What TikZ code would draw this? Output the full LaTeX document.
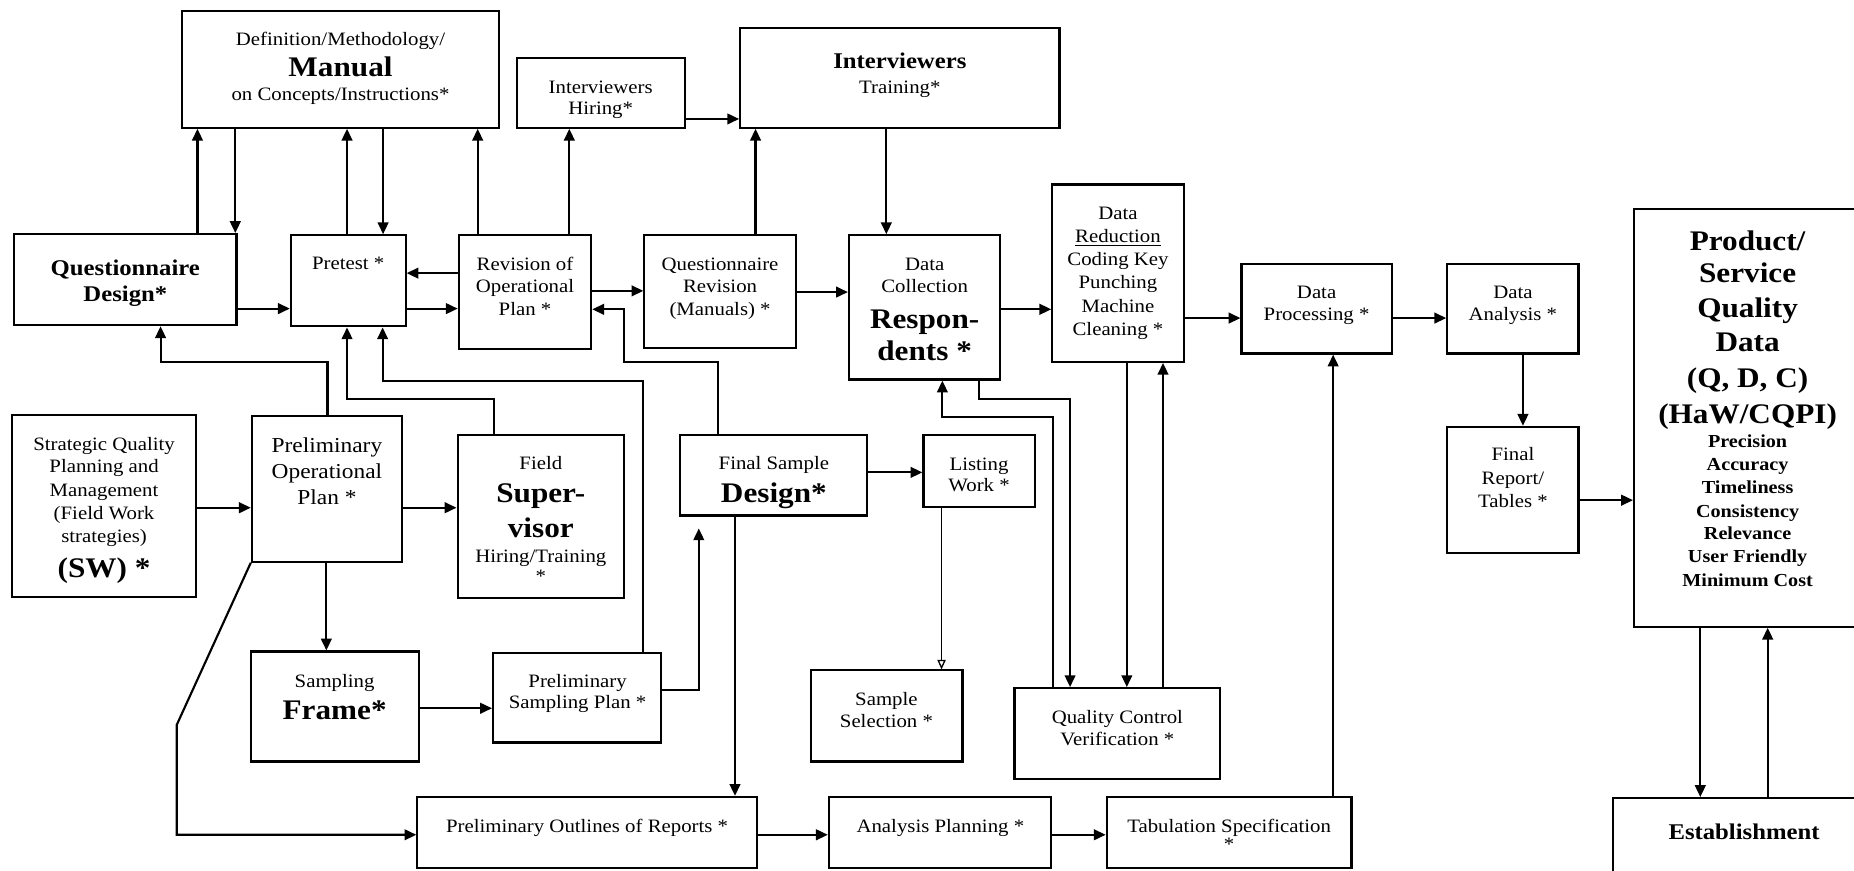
\documentclass[tikz,border=0pt]{standalone}
\usepackage{fontspec}
\setmainfont{Liberation Serif}[FakeStretch=1.1]
\usetikzlibrary{arrows.meta,fit}
\begin{document}
\begin{tikzpicture}[x=1pt,y=-1pt,
  box/.style={draw, line width=1.8pt, inner sep=0pt},
  arr/.style={line width=1.8pt, -{Triangle[length=10pt,width=9pt]}},
  thinarr/.style={line width=1.1pt, -{Triangle[open,length=8pt,width=7pt]}},
  nt/.style={anchor=mid, inner sep=0pt, yshift=-2.5pt, font=\fontsize{16}{19}\selectfont},
  lt/.style={anchor=mid, inner sep=0pt, yshift=-3pt, font=\fontsize{18}{21}\selectfont},
  bt/.style={anchor=mid, inner sep=0pt, yshift=-5.5pt, font=\fontsize{24}{28}\selectfont\bfseries},
  mt/.style={anchor=mid, inner sep=0pt, yshift=-4pt, font=\fontsize{19}{23}\selectfont\bfseries},
  pt/.style={anchor=mid, inner sep=0pt, yshift=-5pt, font=\fontsize{24}{28}\selectfont\bfseries},
  qt/.style={anchor=mid, inner sep=0pt, yshift=-3pt, font=\fontsize{15.5}{19}\selectfont\bfseries},
]
\fill[white] (0,0) rectangle (1568,736);
\useasboundingbox (0,0) rectangle (1568,736);

% ---------- boxes ----------
\node[box, fit={(154,9) (422,108)}] (man) {};
\node[box, fit={(437,49) (579,108)}] (hir) {};
\node[box, fit={(626,24) (896,108)}] (trn) {};
\node[box, fit={(12,198) (200,275)}] (qd) {};
\node[box, fit={(246,199) (343,276)}] (pre) {};
\node[box, fit={(388,199) (500,295)}] (rev) {};
\node[box, fit={(545,199) (673,294)}] (qrv) {};
\node[box, fit={(718,199) (846,321)}] (dc) {};
\node[box, fit={(890,156) (1001,306)}] (dr) {};
\node[box, fit={(1050,223) (1177,299)}] (dp) {};
\node[box, fit={(1224,223) (1335,299)}] (da) {};
\node[box, fit={(1224,361) (1335,468)}] (fr) {};
\node[box, fit={(1382,177) (1576,530)}] (pq) {};
\node[box, fit={(1364,675) (1590,745)}] (est) {};
\node[box, fit={(10,351) (166,505)}] (sq) {};
\node[box, fit={(213,352) (340,475)}] (pop) {};
\node[box, fit={(387,368) (528,506)}] (fs) {};
\node[box, fit={(575,368) (733,436)}] (fsd) {};
\node[box, fit={(781,368) (875,429)}] (lw) {};
\node[box, fit={(212,551) (354,644)}] (sf) {};
\node[box, fit={(417,552) (559,628)}] (psp) {};
\node[box, fit={(686,567) (814,644)}] (ss) {};
\node[box, fit={(858,582) (1032,659)}] (qc) {};
\node[box, fit={(353,674) (640,734)}] (out) {};
\node[box, fit={(701,674) (889,734)}] (ap) {};
\node[box, fit={(936,674) (1143,734)}] (ts) {};

% ---------- texts ----------
\node[nt] (man1) at (288,34) {Definition/Methodology/};
\node[bt] (man2) at (288,56.5) {Manual};
\node[nt] (man3) at (288,80.5) {on Concepts/Instructions*};

\node[nt] (hir1) at (508,74) {Interviewers};
\node[nt] (hir2) at (508,92) {Hiring*};

\node[mt] (trn1) at (761,52) {Interviewers};
\node[nt] (trn2) at (761,74) {Training*};

\node[mt] (qd1) at (106,227) {Questionnaire};
\node[mt] (qd2) at (106,249) {Design*};

\node[nt] (pre1) at (294.5,223) {Pretest *};

\node[nt] (rev1) at (444,224) {Revision of};
\node[nt] (rev2) at (444,243) {Operational};
\node[nt] (rev3) at (444,262) {Plan *};

\node[nt] (qrv1) at (609,224) {Questionnaire};
\node[nt] (qrv2) at (609,243) {Revision};
\node[nt] (qrv3) at (609,262) {(Manuals) *};

\node[nt] (dc1) at (782,224) {Data};
\node[nt] (dc2) at (782,243) {Collection};
\node[bt] (dc3) at (782,270) {Respon-};
\node[bt] (dc4) at (782,297) {dents *};

\node[nt] (dr1) at (945.5,181) {Data};
\node[nt] (dr2) at (945.5,200.7) {\underline{Reduction}};
\node[nt] (dr3) at (945.5,220) {Coding Key};
\node[nt] (dr4) at (945.5,239.6) {Punching};
\node[nt] (dr5) at (945.5,259.4) {Machine};
\node[nt] (dr6) at (945.5,279) {Cleaning *};

\node[nt] (dp1) at (1113.5,247.5) {Data};
\node[nt] (dp2) at (1113.5,266.4) {Processing *};

\node[nt] (da1) at (1279.5,247.5) {Data};
\node[nt] (da2) at (1279.5,266.4) {Analysis *};

\node[nt] (fr1) at (1279.5,385) {Final};
\node[nt] (fr2) at (1279.5,405) {Report/};
\node[nt] (fr3) at (1279.5,424) {Tables *};

\node[pt] (pq1) at (1478,204.4) {Product/};
\node[pt] (pq2) at (1478,231.7) {Service};
\node[pt] (pq3) at (1478,261.6) {Quality};
\node[pt] (pq4) at (1478,289.8) {Data};
\node[pt] (pq5) at (1478,320.8) {(Q, D, C)};
\node[pt] (pq6) at (1478,351) {(HaW/CQPI)};
\node[qt] (pq7) at (1478,373) {Precision};
\node[qt] (pq8) at (1478,392.4) {Accuracy};
\node[qt] (pq9) at (1478,412) {Timeliness};
\node[qt] (pq10) at (1478,432) {Consistency};
\node[qt] (pq11) at (1478,451) {Relevance};
\node[qt] (pq12) at (1478,470.8) {User Friendly};
\node[qt] (pq13) at (1478,490.5) {Minimum Cost};

\node[mt] (est1) at (1475,703.4) {Establishment};

\node[nt] (sq1) at (88,376.4) {Strategic Quality};
\node[nt] (sq2) at (88,395.2) {Planning and};
\node[nt] (sq3) at (88,415) {Management};
\node[nt] (sq4) at (88,434.7) {(Field Work};
\node[nt] (sq5) at (88,454.4) {strategies)};
\node[bt] (sq6) at (88,480.7) {(SW) *};

\node[lt] (pop1) at (276.5,377.2) {Preliminary};
\node[lt] (pop2) at (276.5,399.8) {Operational};
\node[lt] (pop3) at (276.5,421.5) {Plan *};

\node[nt] (fs1) at (457.4,391.9) {Field};
\node[bt] (fs2) at (457.4,417.2) {Super-};
\node[bt] (fs3) at (457.4,446.8) {visor};
\node[nt] (fs4) at (457.4,470.8) {Hiring/Training};
\node[nt] (fs5) at (457.4,487.7) {*};

\node[nt] (fsd1) at (654.5,391.9) {Final Sample};
\node[bt] (fsd2) at (654.5,417.2) {Design*};

\node[nt] (lw1) at (828,393.3) {Listing};
\node[nt] (lw2) at (828,411) {Work *};

\node[nt] (sf1) at (283,576.5) {Sampling};
\node[bt] (sf2) at (283,600.5) {Frame*};

\node[nt] (psp1) at (488.5,576.5) {Preliminary};
\node[nt] (psp2) at (488.5,594.8) {Sampling Plan *};

\node[nt] (ss1) at (749.7,592) {Sample};
\node[nt] (ss2) at (749.7,610.4) {Selection *};

\node[nt] (qc1) at (945,607.5) {Quality Control};
\node[nt] (qc2) at (945,625.9) {Verification *};

\node[nt] (out1) at (496.5,699.2) {Preliminary Outlines of Reports *};
\node[nt] (ap1) at (795.3,699.2) {Analysis Planning *};
\node[nt] (ts1) at (1039.5,699.2) {Tabulation Specification};
\node[nt] (ts2) at (1039.5,714.7) {*};

% ---------- connectors ----------
\draw[arr] (qd.north -| 167,0) -- (man.south -| 167,0);
\draw[arr] (man.south -| 199,0) -- (qd.north -| 199,0);
\draw[arr] (pre.north -| 293.5,0) -- (man.south -| 293.5,0);
\draw[arr] (man.south -| 324,0) -- (pre.north -| 324,0);
\draw[arr] (rev.north -| 404,0) -- (man.south -| 404,0);
\draw[arr] (rev.north -| 481.5,0) -- (hir.south -| 481.5,0);
\draw[arr] (hir.east |- 0,100.6) -- (trn.west |- 0,100.6);
\draw[arr] (qrv.north -| 639,0) -- (trn.south -| 639,0);
\draw[arr] (trn.south -| 749.6,0) -- (dc.north -| 749.6,0);
\draw[arr] (qd.east |- 0,261) -- (pre.west |- 0,261);
\draw[arr] (rev.west |- 0,231) -- (pre.east |- 0,231);
\draw[arr] (pre.east |- 0,261) -- (rev.west |- 0,261);
\draw[arr] (rev.east |- 0,246) -- (qrv.west |- 0,246);
\draw[arr] (qrv.east |- 0,247) -- (dc.west |- 0,247);
\draw[arr] (dc.east |- 0,261.6) -- (dr.west |- 0,261.6);
\draw[arr] (dr.east |- 0,269) -- (dp.west |- 0,269);
\draw[arr] (dp.east |- 0,269) -- (da.west |- 0,269);
\draw[arr] (da.south -| 1288,0) -- (fr.north -| 1288,0);
\draw[arr] (fr.east |- 0,423) -- (pq.west |- 0,423);
\draw[arr] (pq.south -| 1438,0) -- (est.north -| 1438,0);
\draw[arr] (est.north -| 1495,0) -- (pq.south -| 1495,0);
\draw[arr] (sq.east |- 0,429.4) -- (pop.west |- 0,429.4);
\draw[arr] (pop.east |- 0,429.4) -- (fs.west |- 0,429.4);
\draw[arr] (pop.south -| 276,0) -- (sf.north -| 276,0);
\draw[arr] (sf.east |- 0,599) -- (psp.west |- 0,599);
\draw[arr, shorten >=10pt] (psp.east |- 0,583.6) -| (fsd.south -| 591,0);
\draw[arr] (psp.north -| 543.6,0) |- (323.6,322) -- (pre.south -| 323.6,0);
\draw[arr] (fs.north -| 418,0) |- (293.5,337.5) -- (pre.south -| 293.5,0);
\draw[arr] (pop.north -| 277,0) |- (135.8,306) -- (qd.south -| 135.8,0);
\draw[arr] (fsd.north -| 607,0) |- (527.5,306) |- (rev.east |- 0,261.6);
\draw[arr] (pop.south west) -- (149.5,613) |- (out.west |- 0,706);
\draw[arr] (fsd.south -| 621.6,0) -- (out.north -| 621.6,0);
\draw[arr] (fsd.east |- 0,399.5) -- (lw.west |- 0,399.5);
\draw[thinarr] (lw.south -| 796.3,0) -- (ss.north -| 796.3,0);
\draw[arr] (qc.north -| 890.6,0) |- (797,352.4) -- (dc.south -| 797,0);
\draw[arr] (dc.south -| 828,0) |- (905,337.5) -- (qc.north -| 905,0);
\draw[arr] (dr.south -| 953,0) -- (qc.north -| 953,0);
\draw[arr] (qc.north -| 983.6,0) -- (dr.south -| 983.6,0);
\draw[arr] (out.east |- 0,706) -- (ap.west |- 0,706);
\draw[arr] (ap.east |- 0,706) -- (ts.west |- 0,706);
\draw[arr] (ts.north -| 1127.5,0) -- (dp.south -| 1127.5,0);
\end{tikzpicture}
\end{document}
